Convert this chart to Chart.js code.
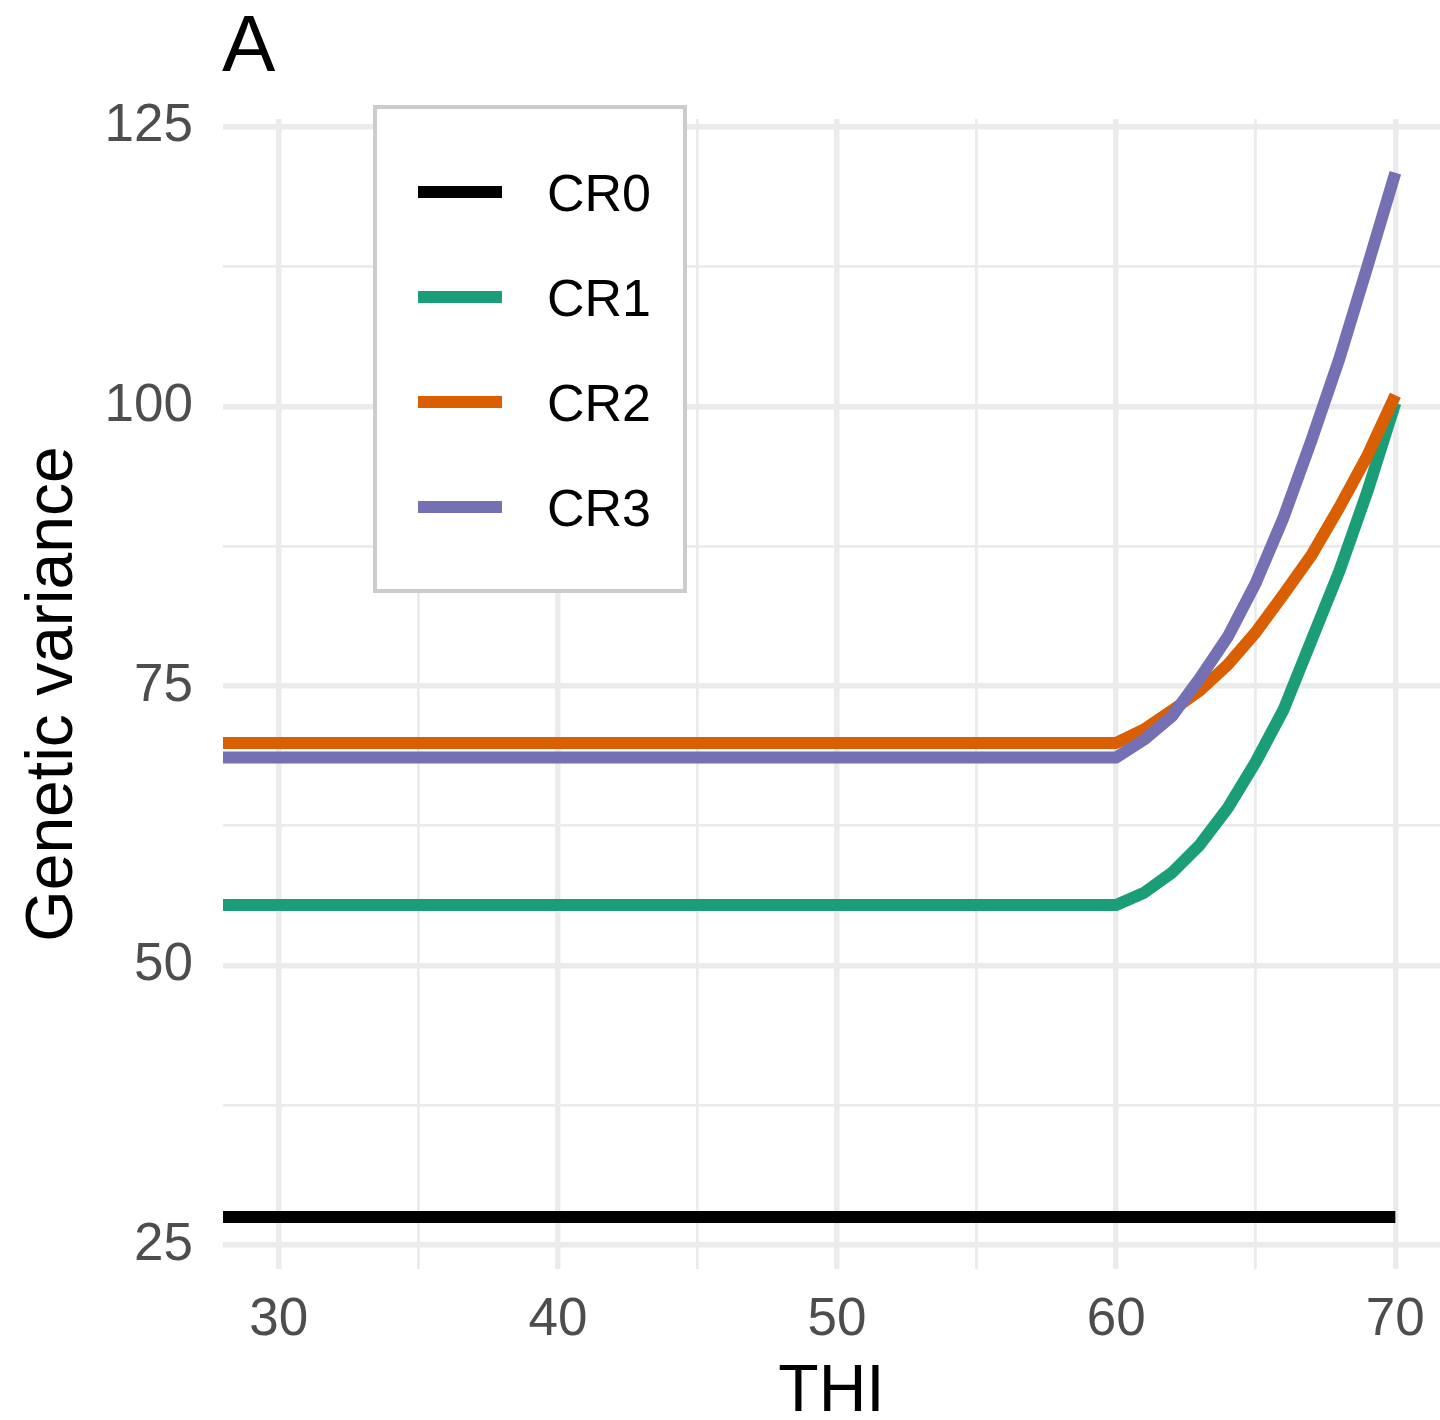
<!DOCTYPE html>
<html>
<head>
<meta charset="utf-8">
<script src="https://cdn.jsdelivr.net/npm/chart.js@4.4.1/dist/chart.umd.min.js"></script>
<style>
  html, body { margin: 0; padding: 0; background: #ffffff; }
  #wrap { width: 1440px; height: 1420px; }
</style>
</head>
<body>
<div id="wrap"><canvas id="c" width="1440" height="1420"></canvas></div>
<script>
// ---- data ----
const thi = [28, 60, 61, 62, 63, 64, 65, 66, 67, 68, 69, 70];
const cr0 = [27.5, 27.5, 27.5, 27.5, 27.5, 27.5, 27.5, 27.5, 27.5, 27.5, 27.5, 27.5];
const cr1 = [55.4, 55.4, 56.5, 58.3, 60.8, 64.1, 68.2, 72.9, 79.1, 85.3, 92.4, 100.3];
const cr2 = [69.9, 69.9, 71.1, 72.8, 74.6, 76.9, 79.8, 83.2, 86.7, 91.0, 95.6, 101.0];
const cr3 = [68.6, 68.6, 70.2, 72.3, 75.7, 79.4, 84.2, 90.1, 97.0, 104.3, 112.5, 120.9];
const seriesNames = ['CR0', 'CR1', 'CR2', 'CR3'];
const seriesColors = ['#000000', '#1b9e77', '#d95f02', '#7570b3'];
const xTicks = [30, 35, 40, 45, 50, 55, 60, 65, 70];
const xMajor = [30, 40, 50, 60, 70];
const yTicks = [25, 37.5, 50, 62.5, 75, 87.5, 100, 112.5, 125];
const yMajor = [25, 50, 75, 100, 125];
const panelLabel = 'A';
const xTitle = 'THI';
const yTitle = 'Genetic variance';

const FONT = '"Liberation Sans", Arial, Helvetica, sans-serif';
const allSeries = [cr0, cr1, cr2, cr3];

const datasets = allSeries.map((vals, i) => ({
  label: seriesNames[i],
  data: thi.map((x, j) => ({ x: x, y: vals[j] })),
  borderColor: seriesColors[i],
  backgroundColor: seriesColors[i],
  borderWidth: 12,
  borderCapStyle: 'butt',
  borderJoinStyle: 'round',
  pointRadius: 0,
  tension: 0,
  fill: false,
  order: 3 - i
}));

const gridColor = () => '#ebebeb';
const gridWidth = (majors) => (ctx) => (ctx.tick && majors.includes(ctx.tick.value)) ? 5.5 : 2.8;

const overlay = {
  id: 'overlay',
  beforeDraw(chart) {
    const c = chart.ctx;
    c.save();
    c.fillStyle = '#ffffff';
    c.fillRect(0, 0, chart.width, chart.height);
    c.restore();
  },
  afterDraw(chart) {
    const c = chart.ctx;
    c.save();
    // panel label
    c.fillStyle = '#000000';
    c.font = '80px ' + FONT;
    c.textAlign = 'left';
    c.textBaseline = 'alphabetic';
    c.fillText(panelLabel, 222, 71);
    // legend box
    c.fillStyle = '#ffffff';
    c.fillRect(375, 107, 310, 484);
    c.strokeStyle = '#cccccc';
    c.lineWidth = 4;
    c.strokeRect(375, 107, 310, 484);
    const rows = [192, 297, 402, 507];
    c.font = '52px ' + FONT;
    seriesNames.forEach((name, i) => {
      c.strokeStyle = seriesColors[i];
      c.lineWidth = 12;
      c.lineCap = 'butt';
      c.beginPath();
      c.moveTo(418, rows[i]);
      c.lineTo(502, rows[i]);
      c.stroke();
      c.fillStyle = '#000000';
      c.fillText(name, 547, rows[i] + 19);
    });
    c.restore();
  }
};

new Chart(document.getElementById('c'), {
  type: 'line',
  data: { datasets: datasets },
  options: {
    responsive: false,
    animation: false,
    devicePixelRatio: 1,
    layout: { padding: { top: 119, right: 0, bottom: 0, left: 0 } },
    plugins: { legend: { display: false }, tooltip: { enabled: false }, title: { display: false } },
    scales: {
      x: {
        type: 'linear',
        min: 28,
        max: 71.6,
        afterBuildTicks: (s) => { s.ticks = xTicks.map(v => ({ value: v })); },
        afterFit: (s) => { s.height = 151; s.paddingLeft = 0; s.paddingRight = 0; },
        border: { display: false },
        grid: { color: gridColor, lineWidth: gridWidth(xMajor), drawTicks: false },
        ticks: {
          autoSkip: false,
          maxRotation: 0,
          padding: 20,
          color: '#4d4d4d',
          font: { family: FONT, size: 53 },
          callback: (v) => xMajor.includes(v) ? String(v) : ''
        },
        title: {
          display: true,
          text: xTitle,
          color: '#000000',
          font: { family: FONT, size: 66, lineHeight: 0.9 },
          padding: { top: 0, bottom: -2 }
        }
      },
      y: {
        type: 'linear',
        min: 22.85,
        max: 125.7,
        afterBuildTicks: (s) => { s.ticks = yTicks.map(v => ({ value: v })); },
        afterFit: (s) => { s.width = 223; s.paddingTop = 0; s.paddingBottom = 0; },
        border: { display: false },
        grid: { color: gridColor, lineWidth: gridWidth(yMajor), drawTicks: false },
        ticks: {
          autoSkip: false,
          padding: 30,
          color: '#4d4d4d',
          font: { family: FONT, size: 53 },
          callback: (v) => yMajor.includes(v) ? String(v) : ''
        },
        title: {
          display: true,
          text: yTitle,
          color: '#000000',
          font: { family: FONT, size: 66, lineHeight: 1 },
          padding: { top: 21, bottom: 0 }
        }
      }
    }
  },
  plugins: [overlay]
});
</script>
</body>
</html>
